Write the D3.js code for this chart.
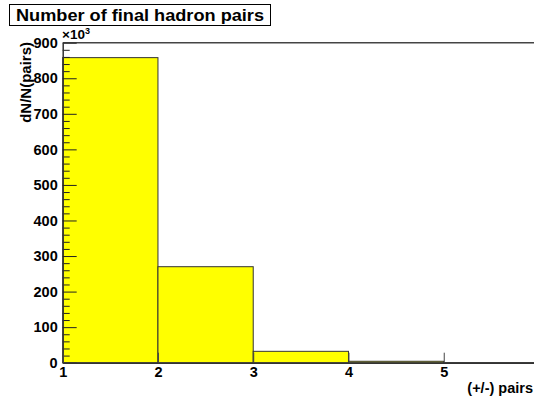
<!DOCTYPE html>
<html>
<head>
<meta charset="utf-8">
<script src="https://cdn.jsdelivr.net/npm/d3@7"></script>
<style>
  html, body { margin: 0; padding: 0; background: #fff; }
  svg { display: block; }
  text { font-family: "Liberation Sans", Arial, Helvetica, sans-serif; font-weight: bold; fill: #000; }
</style>
</head>
<body>
<svg id="chart" width="534" height="399"></svg>
<script>
// Histogram bin edges (number of +/- hadron pairs) and entries per bin
const binEdges = [1, 2, 3, 4, 5, 6];
const binCounts = [858000, 270000, 32000, 4000, 300];
const xTicks = [1, 2, 3, 4, 5];
const yMajorTicks = [0, 100000, 200000, 300000, 400000, 500000, 600000, 700000, 800000, 900000];
const titleText = "Number of final hadron pairs";
const xTitle = "(+/-) pairs";
const yTitle = "dN/N(pairs)";

const svg = d3.select("#chart");
const frame = { left: 62.7, right: 539, top: 42.7, bottom: 362.7 };

const x = d3.scaleLinear().domain([1, 6]).range([frame.left, frame.right]);
const y = d3.scaleLinear().domain([0, 900000]).range([frame.bottom, frame.top]);

// frame (top and right edges)
svg.append("path")
  .attr("d", `M${frame.left},${frame.top}H${frame.right}V${frame.bottom}`)
  .attr("fill", "none").attr("stroke", "#444").attr("stroke-width", 1.5);

// histogram bars
const bins = binCounts.map((c, i) => ({ x0: binEdges[i], x1: binEdges[i + 1], c }));
svg.append("g").selectAll("rect").data(bins).join("rect")
  .attr("x", d => x(d.x0))
  .attr("y", d => y(d.c))
  .attr("width", d => x(d.x1) - x(d.x0))
  .attr("height", d => y(0) - y(d.c))
  .attr("fill", "#ffff00")
  .attr("stroke", "#333")
  .attr("stroke-width", 1);

// minor y ticks
const yMinor = d3.range(0, 900001, 20000).filter(v => v % 100000 !== 0);
svg.append("g").attr("transform", `translate(${frame.left},0)`)
  .call(d3.axisLeft(y).tickValues(yMinor).tickSize(-7).tickFormat(""))
  .call(g => g.select(".domain").remove())
  .call(g => g.selectAll("line").attr("stroke", "#222"));

// major y ticks and labels
svg.append("g").attr("transform", `translate(${frame.left},0)`)
  .call(d3.axisLeft(y).tickValues(yMajorTicks).tickSize(-14).tickSizeOuter(0).tickPadding(5)
    .tickFormat(d => d / 1000))
  .call(g => g.select(".domain").attr("stroke", "#333").attr("stroke-width", 1.5))
  .call(g => g.selectAll("line").attr("stroke", "#222"))
  .call(g => g.selectAll("text").attr("font-size", 14.5).attr("font-family", null).attr("fill", "#000"));

// x axis
svg.append("g").attr("transform", `translate(0,${frame.bottom})`)
  .call(d3.axisBottom(x).tickValues(xTicks).tickSize(-10).tickSizeOuter(0).tickPadding(4)
    .tickFormat(d3.format("d")))
  .call(g => g.select(".domain").attr("stroke", "#333").attr("stroke-width", 1.5))
  .call(g => g.selectAll("line").attr("stroke", "#444"))
  .call(g => g.selectAll("text").attr("font-size", 14.5).attr("font-family", null).attr("fill", "#000"));

// exponent marker on the y axis
const expo = svg.append("text").attr("x", 62).attr("y", 39).attr("font-size", 13.5).attr("font-weight", "normal");
expo.append("tspan").text("×10");
expo.append("tspan").attr("font-size", 9).attr("dy", -5).text("3");

// axis titles
svg.append("text")
  .attr("transform", `translate(31,42) rotate(-90)`)
  .attr("text-anchor", "end")
  .attr("font-size", 15)
  .text(yTitle);

svg.append("text")
  .attr("x", 533).attr("y", 393)
  .attr("text-anchor", "end")
  .attr("font-size", 14.5)
  .text(xTitle);

// title box
const titleG = svg.append("g");
titleG.append("rect")
  .attr("x", 9.5).attr("y", 4.5).attr("width", 261).attr("height", 21)
  .attr("fill", "#fff").attr("stroke", "#000").attr("stroke-width", 1);
titleG.append("text")
  .attr("x", 16).attr("y", 21)
  .attr("font-size", 17)
  .attr("textLength", 248)
  .attr("lengthAdjust", "spacingAndGlyphs")
  .text(titleText);
</script>
</body>
</html>
